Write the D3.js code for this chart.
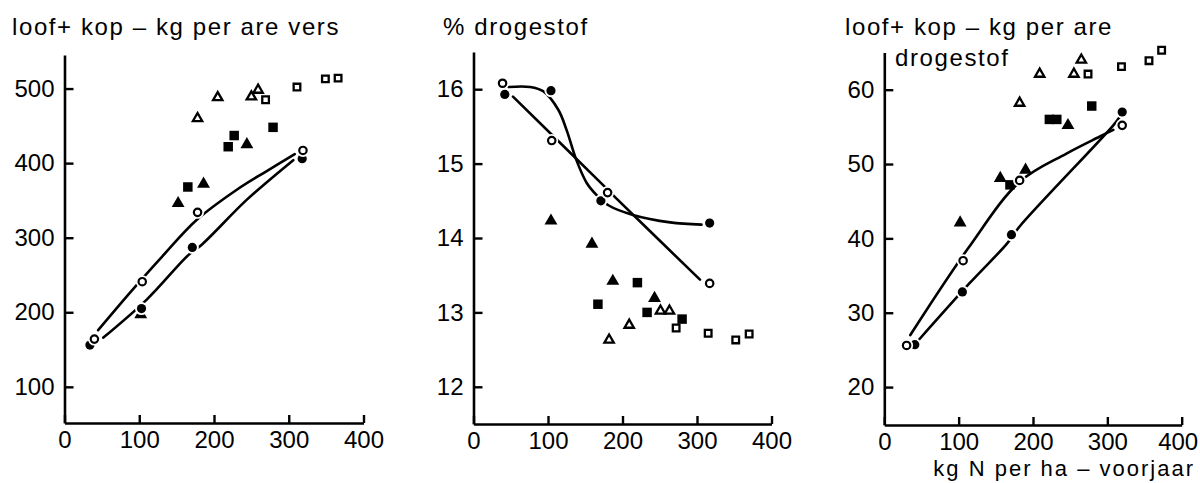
<!DOCTYPE html>
<html><head><meta charset="utf-8">
<script src="https://cdn.jsdelivr.net/npm/d3@7"></script>
<style>
html,body{margin:0;padding:0;background:#fff;}
svg{display:block;}
text{font-family:"Liberation Sans",Arial,sans-serif;fill:#000;font-size:24px;}
</style></head><body>
<svg id="chart" width="1200" height="483"></svg>
<script>
// ---------- tick labels ----------
const xTicks = [0, 100, 200, 300, 400];
const yTicksVers = [100, 200, 300, 400, 500];
const yTicksPct = [12, 13, 14, 15, 16];
const yTicksDs = [20, 30, 40, 50, 60];

// ---------- panel titles ----------
const titleVers = ["loof+ kop – kg per are vers"];
const titlePct = ["% drogestof"];
const titleDs = ["loof+ kop – kg per are", "drogestof"];
const xAxisLabel = "kg N per ha – voorjaar";

// ---------- panel 1: loof + kop, kg per are vers ----------
const versOpenCircleX = [40, 104, 178, 319];
const versOpenCircleY = [164, 241, 334, 417];
const versFilledCircleX = [34, 103, 171, 318];
const versFilledCircleY = [156, 205, 287, 406];
const versFilledTriangleX = [102, 152, 186, 244];
const versFilledTriangleY = [197, 346, 372, 425];
const versOpenTriangleX = [178, 205, 250, 259];
const versOpenTriangleY = [460, 488, 489, 498];
const versFilledSquareX = [165, 219, 227, 279];
const versFilledSquareY = [368, 422, 437, 448];
const versOpenSquareX = [269, 311, 349, 366];
const versOpenSquareY = [485, 502, 513, 514];
const versOpenFit = [[45,176],[90,229],[130,274],[177,324],[230,364],[270,389],[308,412]];
const versFilledFit = [[52,166],[110,217],[166,277],[184,291],[244,351],[306,404]];

// ---------- panel 2: % drogestof ----------
const pctOpenCircleX = [39, 105, 180, 317];
const pctOpenCircleY = [16.08, 15.31, 14.61, 13.39];
const pctFilledCircleX = [42, 104, 171, 317];
const pctFilledCircleY = [15.93, 15.98, 14.50, 14.20];
const pctFilledTriangleX = [104, 159, 187, 243];
const pctFilledTriangleY = [14.23, 13.92, 13.42, 13.19];
const pctOpenTriangleX = [182, 209, 251, 263];
const pctOpenTriangleY = [12.63, 12.83, 13.02, 13.02];
const pctFilledSquareX = [167, 220, 233, 280];
const pctFilledSquareY = [13.11, 13.40, 13.00, 12.91];
const pctOpenSquareX = [272, 315, 352, 370];
const pctOpenSquareY = [12.79, 12.72, 12.63, 12.71];
const pctFilledFit = [[47,16.03],[76,16.03],[94,15.97],[114,15.72],[125,15.45],[138,15.05],[152,14.74],[165,14.58],[181,14.44],[214,14.31],[264,14.21],[306,14.18]];
const pctOpenFit = [[53,15.9],[174,14.71],[192,14.53],[304,13.44]];

// ---------- panel 3: loof + kop, kg per are drogestof ----------
const dsOpenCircleX = [30, 106, 182, 320];
const dsOpenCircleY = [25.6, 37.0, 47.8, 55.2];
const dsFilledCircleX = [41, 105, 171, 320];
const dsFilledCircleY = [25.7, 32.8, 40.5, 57.0];
const dsFilledTriangleX = [102, 156, 190, 247];
const dsFilledTriangleY = [42.1, 48.1, 49.2, 55.2];
const dsOpenTriangleX = [182, 209, 255, 265];
const dsOpenTriangleY = [58.2, 62.1, 62.1, 64.0];
const dsFilledSquareX = [169, 222, 232, 279];
const dsFilledSquareY = [47.2, 56.0, 56.0, 57.8];
const dsOpenSquareX = [274, 319, 356, 373];
const dsOpenSquareY = [62.1, 63.1, 63.9, 65.3];
const dsOpenFit = [[35,27.0],[113,38.7],[182,47.6],[245,51.4],[290,53.7],[308,54.6]];
const dsFilledFit = [[46,26.3],[115,34.0],[165,39.3],[182,41.6],[308,55.2],[317,56.4]];

// ---------- build panels ----------
function series(kind, xs, ys) { return { kind, pts: xs.map((x, i) => [x, ys[i]]) }; }

const panels = [
  {
    xRange: [64.5, 363.5], yDomain: [51.5, 545], yRange: [423, 55], yTicks: yTicksVers,
    title: titleVers, titlePos: [[12, 35]],
    fits: [versOpenFit, versFilledFit],
    series: [
      series("fs", versFilledSquareX, versFilledSquareY),
      series("ft", versFilledTriangleX, versFilledTriangleY),
      series("ot", versOpenTriangleX, versOpenTriangleY),
      series("os", versOpenSquareX, versOpenSquareY),
      series("fc", versFilledCircleX, versFilledCircleY),
      series("oc", versOpenCircleX, versOpenCircleY)
    ]
  },
  {
    xRange: [473.5, 771.5], yDomain: [11.5, 16.5], yRange: [424, 52], yTicks: yTicksPct,
    title: titlePct, titlePos: [[443, 35]],
    fits: [pctFilledFit, pctOpenFit],
    series: [
      series("fs", pctFilledSquareX, pctFilledSquareY),
      series("ft", pctFilledTriangleX, pctFilledTriangleY),
      series("ot", pctOpenTriangleX, pctOpenTriangleY),
      series("os", pctOpenSquareX, pctOpenSquareY),
      series("fc", pctFilledCircleX, pctFilledCircleY),
      series("oc", pctOpenCircleX, pctOpenCircleY)
    ]
  },
  {
    xRange: [884.3, 1181.7], yDomain: [14.9, 65], yRange: [425, 52.5], yTicks: yTicksDs,
    title: titleDs, titlePos: [[845, 35], [895, 66]],
    fits: [dsOpenFit, dsFilledFit],
    series: [
      series("fs", dsFilledSquareX, dsFilledSquareY),
      series("ft", dsFilledTriangleX, dsFilledTriangleY),
      series("ot", dsOpenTriangleX, dsOpenTriangleY),
      series("os", dsOpenSquareX, dsOpenSquareY),
      series("fc", dsFilledCircleX, dsFilledCircleY),
      series("oc", dsOpenCircleX, dsOpenCircleY)
    ],
    xLabel: true
  }
];

const svg = d3.select("#chart");
svg.append("rect").attr("width", 1200).attr("height", 483).attr("fill", "#fff");

const triFilled = d3.symbol().type(d3.symbolTriangle).size(72)();
const triOpen = d3.symbol().type(d3.symbolTriangle).size(38)();
const sqFilled = d3.symbol().type(d3.symbolSquare).size(90)();
const sqOpen = d3.symbol().type(d3.symbolSquare).size(44)();

panels.forEach(p => {
  const x = d3.scaleLinear().domain([0, 400]).range(p.xRange);
  const y = d3.scaleLinear().domain(p.yDomain).range(p.yRange);
  const g = svg.append("g");
  const base = p.yRange[0];

  // axes
  const gx = g.append("g").attr("transform", `translate(0,${base})`)
    .call(d3.axisBottom(x).tickValues(xTicks).tickFormat(d3.format("d"))
      .tickSizeInner(-8).tickSizeOuter(0).tickPadding(8));
  const gy = g.append("g").attr("transform", `translate(${p.xRange[0]},0)`)
    .call(d3.axisLeft(y).tickValues(p.yTicks).tickFormat(d3.format("d"))
      .tickSizeInner(-9).tickSizeOuter(0).tickPadding(10));
  [gx, gy].forEach(a => {
    a.attr("font-size", null).attr("font-family", null);
    a.selectAll("path.domain").attr("stroke", "#000").attr("stroke-width", 2.6);
    a.selectAll(".tick line").attr("stroke", "#000").attr("stroke-width", 2.4);
    a.selectAll(".tick text").attr("fill", "#000").style("font-size", "24px");
  });
  if (p.xLabel) {
    // keep the last tick label inside the page edge
    gx.selectAll(".tick text").filter(d => d === 400)
      .attr("text-anchor", "end").attr("x", 0).attr("dx", 16);
  }

  // fitted curves
  const line = d3.line().x(d => x(d[0])).y(d => y(d[1])).curve(d3.curveCatmullRom);
  p.fits.forEach(f => {
    g.append("path").attr("d", line(f)).attr("fill", "none")
      .attr("stroke", "#000").attr("stroke-width", 2.6).attr("stroke-linecap", "round");
  });

  // markers
  p.series.forEach(s => {
    s.pts.forEach(([vx, vy]) => {
      const cx = x(vx), cy = y(vy);
      const m = g.append("g").attr("transform", `translate(${cx},${cy})`);
      if (s.kind === "fc") {
        m.append("circle").attr("r", 6.5).attr("fill", "#fff");
        m.append("circle").attr("r", 4.6).attr("fill", "#000");
      } else if (s.kind === "oc") {
        m.append("circle").attr("r", 6.5).attr("fill", "#fff");
        m.append("circle").attr("r", 3.7).attr("fill", "#fff").attr("stroke", "#000").attr("stroke-width", 2.2);
      } else if (s.kind === "ft") {
        m.append("path").attr("d", triFilled).attr("fill", "#000");
      } else if (s.kind === "ot") {
        m.append("path").attr("d", triOpen).attr("fill", "#fff").attr("stroke", "#000").attr("stroke-width", 2.3);
      } else if (s.kind === "fs") {
        m.append("path").attr("d", sqFilled).attr("fill", "#000");
      } else if (s.kind === "os") {
        m.append("path").attr("d", sqOpen).attr("fill", "#fff").attr("stroke", "#000").attr("stroke-width", 2.3);
      }
    });
  });

  // titles
  p.title.forEach((t, i) => {
    svg.append("text").attr("x", p.titlePos[i][0]).attr("y", p.titlePos[i][1])
      .style("letter-spacing", "1.6px").text(t);
  });
  if (p.xLabel) {
    svg.append("text").attr("x", 1195).attr("y", 476).attr("text-anchor", "end")
      .style("font-size", "22px").style("letter-spacing", "2px").text(xAxisLabel);
  }
});
</script>
</body></html>
